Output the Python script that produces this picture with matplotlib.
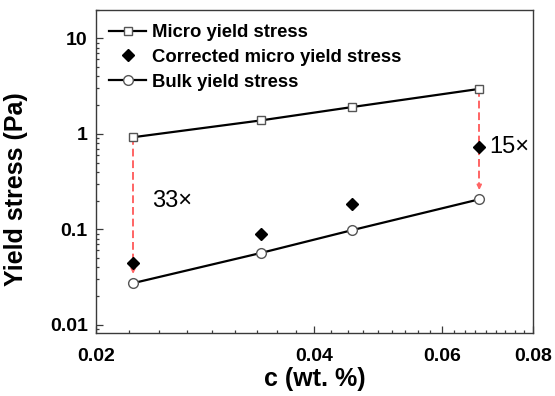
import numpy as np
import matplotlib
matplotlib.use("Agg")
import matplotlib.pyplot as plt
from matplotlib.ticker import FixedLocator, LogLocator, NullFormatter

plt.rcParams['font.family'] = ['Liberation Sans', 'DejaVu Sans']

# Data
conc = [0.0225, 0.03375, 0.045, 0.0675]
micro = [0.92, 1.38, 1.90, 2.95]
corrected = [0.0445, 0.090, 0.183, 0.724]
bulk = [0.0273, 0.0565, 0.0976, 0.206]
fold_labels = ["33\u00d7", "15\u00d7"]

axis_col = '#3a3a3a'
red = '#ff6464'

fig = plt.figure(figsize=(5.55, 3.96), dpi=100)
ax = fig.add_axes([0.173, 0.159, 0.787, 0.817])
ax.set_xscale('log')
ax.set_yscale('log')

ax.plot(conc, micro, color='black', lw=1.6, marker='s', ms=6, mfc='white',
        mec='#555555', mew=1.0, label='Micro yield stress', zorder=3)
ax.plot(conc, corrected, ls='none', marker='D', ms=6.5, color='black',
        label='Corrected micro yield stress', zorder=4)
ax.plot(conc, bulk, color='black', lw=1.6, marker='o', ms=7, mfc='white',
        mec='#555555', mew=1.0, label='Bulk yield stress', zorder=3)

# dashed red arrows from micro to bulk for first and last point
for i in (0, -1):
    x = conc[i]
    tip = bulk[i] * 1.25
    ax.plot([x, x], [micro[i], tip * 1.1], color=red, lw=1.4,
            dashes=(4, 2), zorder=2)
    ax.annotate('', xy=(x, tip), xytext=(x, tip * 1.12),
                arrowprops=dict(arrowstyle='-|>', color=red, lw=1.2,
                                mutation_scale=7, shrinkA=0, shrinkB=0),
                zorder=2)

ax.text(0.0239, 0.20, fold_labels[0], fontsize=17, va='center', ha='left')
ax.text(0.0697, corrected[-1], fold_labels[1], fontsize=17, va='center', ha='left')

ax.set_xlim(0.02, 0.08)
ax.set_ylim(0.0082, 20)

major_x = [0.02, 0.04, 0.06, 0.08]
ax.xaxis.set_major_locator(FixedLocator(major_x))
minor_x = [a + k * 0.02 / 9 for a in major_x[:-1] for k in range(1, 9)]
ax.xaxis.set_minor_locator(FixedLocator(minor_x))
ax.xaxis.set_minor_formatter(NullFormatter())
ax.set_xticklabels(['0.02', '0.04', '0.06', '0.08'])

ax.yaxis.set_major_locator(FixedLocator([0.01, 0.1, 1, 10]))
ax.yaxis.set_minor_locator(LogLocator(base=10, subs=np.arange(2, 10)))
ax.yaxis.set_minor_formatter(NullFormatter())
ax.set_yticklabels(['0.01', '0.1', '1', '10'])

for sp in ax.spines.values():
    sp.set_color(axis_col)
    sp.set_linewidth(1.0)

ax.tick_params(which='both', direction='in', color=axis_col, width=0.9)
ax.tick_params(which='major', length=5)
ax.tick_params(which='minor', length=2.5)
ax.tick_params(axis='x', which='major', pad=10.5)
ax.tick_params(axis='y', which='major', pad=6)
for lab in ax.get_xticklabels() + ax.get_yticklabels():
    lab.set_fontsize(14)
    lab.set_fontweight('bold')

ax.set_xlabel('c (wt. %)', fontsize=18, fontweight='bold', labelpad=2)
ax.set_ylabel('Yield stress (Pa)', fontsize=18, fontweight='bold')
ax.yaxis.set_label_coords(-0.155, 0.445)

leg = ax.legend(loc='upper left', bbox_to_anchor=(0.03, 0.955), frameon=False,
                borderpad=0, borderaxespad=0, handlelength=2.0,
                handletextpad=0.3, labelspacing=0.42,
                prop={'weight': 'bold', 'size': 13.3})

fig.savefig('out.png', dpi=100)
